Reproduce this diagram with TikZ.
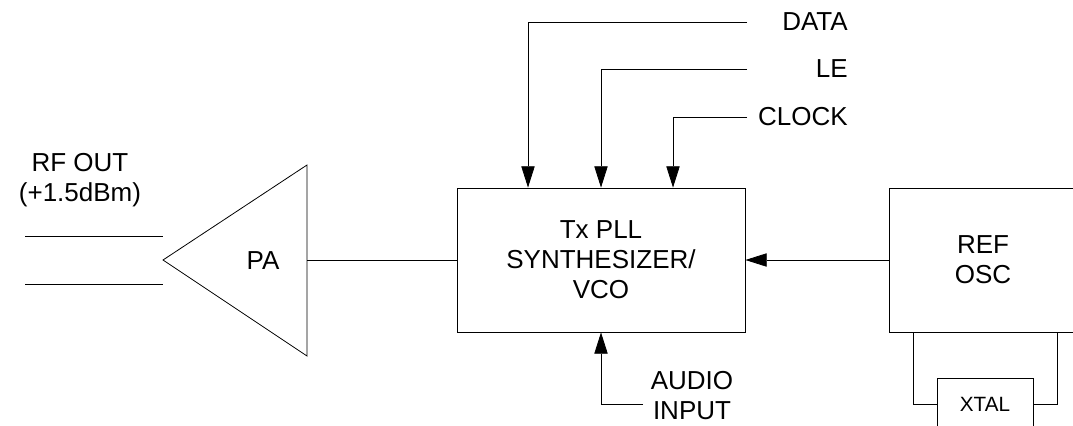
\documentclass[tikz,border=0pt]{standalone}
\usepackage{fontspec}
\setmainfont{Liberation Sans}
\usetikzlibrary{arrows.meta,positioning,calc}

\begin{document}
\begin{tikzpicture}[
  x=0.75pt,y=-0.75pt,
  font=\fontsize{19.5}{22.5}\selectfont,
  box/.style={draw,align=center,inner sep=2pt,line width=0.6pt},
  wire/.style={line width=0.6pt},
  sig/.style={wire,-{Triangle[length=16pt,width=10pt]}},
  lbl/.style={align=center,inner sep=0pt}
]
\useasboundingbox (0,0) rectangle (1073,425);
% blocks
\node[box,minimum width=216pt,minimum height=108pt] (syn) at (601,260)
  {Tx PLL\\SYNTHESIZER/\\VCO};
\node[box,minimum width=141pt,minimum height=108pt] (osc) at (983,260)
  {REF\\OSC};
\node[box,minimum width=72pt,minimum height=39pt,
  font=\fontsize{15.5}{18}\selectfont] (xtal) at (985,404) {XTAL};
% power amplifier
\coordinate (paapex) at (163,260);
\coordinate (paout) at (307,260);
\draw[wire] (paapex) -- (307,165) -- (307,356) -- cycle;
\node[lbl] (pa) at (263,261) {PA};
\draw[wire] (paout) -- (syn.west);
% rf output
\coordinate (rfa) at (25,236);
\coordinate (rfb) at (25,284);
\draw[wire] (rfa) -- (rfa -| paapex);
\draw[wire] (rfb) -- (rfb -| paapex);
\node[lbl] (rfout) at (80,180) {RF OUT\\(+1.5dBm)};
% serial control inputs
\coordinate (dataend) at (747,22);
\coordinate (leend) at (747,69);
\coordinate (clkend) at (747,117);
\draw[sig] (dataend) -| ([xshift=-54.75pt]syn.north);
\draw[sig] (leend) -| (syn.north);
\draw[sig] (clkend) -| ([xshift=54pt]syn.north);
\node[lbl,anchor=east] (datalbl) at (848,22) {DATA};
\node[lbl,anchor=east] (lelbl) at (848,69) {LE};
\node[lbl,anchor=east] (clklbl) at (848,117) {CLOCK};
% audio
\coordinate (audend) at (643,404);
\draw[sig] (audend) -| (syn.south);
\node[lbl] (audlbl) at (692,396) {AUDIO\\INPUT};
% reference
\draw[sig] (osc.west) -- (syn.east);
\coordinate (xl) at (913,332);
\coordinate (xr) at (1057,332);
\draw[wire] (xl) |- (xtal.west);
\draw[wire] (xr) |- (xtal.east);
\end{tikzpicture}
\end{document}
